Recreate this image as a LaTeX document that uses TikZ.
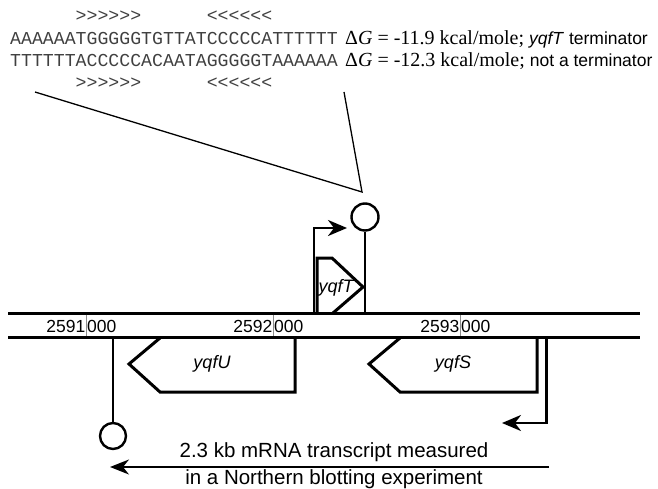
\documentclass[tikz,border=0pt]{standalone}
\usepackage{fontspec}
\setmainfont{Liberation Serif}
\newfontfamily\sansf{Liberation Sans}
\newfontfamily\monof{Liberation Mono}
\usetikzlibrary{arrows.meta}

\begin{document}
\begin{tikzpicture}[x=1pt,y=-1pt,
  axisline/.style={line width=3pt},
  genebox/.style={line width=3pt, line join=miter},
  scaletick/.style={line width=0.6pt, black!45},
  stemline/.style={line width=2.6pt},
  promoter/.style={line width=2.6pt, line join=miter,
    -{Stealth[length=19pt,width=16pt,inset=6pt]}},
  termcircle/.style={circle, draw, line width=2.4pt, minimum size=27pt, inner sep=0pt},
  zoomline/.style={line width=1.3pt},
  seqtext/.style={inner sep=0pt, anchor=base west, text=black!75,
    font=\monof\fontsize{18.2}{20}\selectfont},
  energytext/.style={inner sep=0pt, anchor=base west,
    font=\fontsize{20}{22}\selectfont},
  ticklabel/.style={inner sep=0pt, font=\sansf\fontsize{17.5}{19}\selectfont},
  genelabel/.style={inner sep=0pt, font=\sansf\itshape\fontsize{18}{20}\selectfont},
  notetext/.style={inner sep=0pt, anchor=base, font=\sansf\fontsize{20.5}{23}\selectfont},
]
\useasboundingbox (0,0) rectangle (658,489);

% ---- sequence of the terminator region and its two strands
\def\cw{10.92}
\node[seqtext] (mkA1) at ({10+6*\cw},21.5) {>>>>>>};
\node[seqtext] (mkB1) at ({10+18*\cw},21.5) {<<<<<<};
\node[seqtext] (seq1) at (10,45) {AAAAAATGGGGGTGTTATCCCCCATTTTTT};
\node[seqtext] (seq2) at (10,67) {TTTTTTACCCCCACAATAGGGGGTAAAAAA};
\node[seqtext] (mkA2) at ({10+6*\cw},88.5) {>>>>>>};
\node[seqtext] (mkB2) at ({10+18*\cw},88.5) {<<<<<<};

\node[energytext] (dg1) at (345,45)
  {Δ\textit{G} = -11.9 kcal/mole; {\sansf\fontsize{17.5}{19}\selectfont\textit{yqfT} terminator}};
\node[energytext] (dg2) at (345,67)
  {Δ\textit{G} = -12.3 kcal/mole; {\sansf\fontsize{17.5}{19}\selectfont not a terminator}};

% ---- chromosome axis with coordinate scale
\coordinate (axL1) at (8,313);  \coordinate (axR1) at (640,313);
\coordinate (axL2) at (8,337);  \coordinate (axR2) at (640,337);
\draw[axisline] (axL1) -- (axR1);
\draw[axisline] (axL2) -- (axR2);

\foreach \tx/\kb in {86/2591, 273/2592, 460/2593}{
  \draw[scaletick] (\tx,314.5) -- (\tx,335.5);
  \node[ticklabel, anchor=base east] (hi\kb) at (\tx-0.5,332) {\kb};
  \node[ticklabel, anchor=base west] (lo\kb) at (\tx+1,332) {000};
}

% ---- genes
% yqfT (forward strand, above the axis)
\coordinate (tA) at (317,313);
\draw[genebox] (tA) -- (317,258) -- (332,258) -- (363,287) -- (333,313);
\node[genelabel] (yqfT) at (336,288) {yqfT};

% yqfU (reverse strand)
\coordinate (uA) at (160,338);
\draw[genebox] (uA) -- (129,364) -- (160,392) -- (295,392) -- (295,337);
\node[genelabel] (yqfU) at (212,364) {yqfU};

% yqfS (reverse strand)
\coordinate (sA) at (400,338);
\draw[genebox] (sA) -- (369,364) -- (400,392) -- (537,392) -- (537,337);
\node[genelabel] (yqfS) at (453,364) {yqfS};

% ---- promoters
\coordinate (pT0) at (314,314);
\coordinate (pT1) at (347,228);
\draw[promoter] (pT0) |- (pT1);

\coordinate (pS0) at (546.5,336);
\coordinate (pS1) at (502,423);
\draw[promoter] (pS0) |- (pS1);

% ---- terminators
\node[termcircle] (termT) at (365,217) {};
\coordinate (termTfoot) at (365,314);
\draw[stemline] (termT.south) -- (termTfoot);

\node[termcircle, minimum size=26pt] (termU) at (113,436) {};
\coordinate (termUfoot) at (113,336);
\draw[stemline] (termUfoot) -- (termU.north);

% ---- lines opening up from the terminator to its sequence
\coordinate (zL) at (35,92);
\coordinate (zR) at (344,92);
\coordinate (zTip) at (362,192);
\draw[zoomline] (zL) -- (zTip) -- (zR);

% ---- measured transcript
\coordinate (mS) at (549,467);
\coordinate (mE) at (110,467);
\draw[line width=1.8pt, -{Stealth[length=19pt,width=15pt,inset=6pt]}] (mS) -- (mE);
\node[notetext] (note1) at (334,457) {2.3 kb mRNA transcript measured};
\node[notetext] (note2) at (334,484.5) {in a Northern blotting experiment};
\end{tikzpicture}
\end{document}
